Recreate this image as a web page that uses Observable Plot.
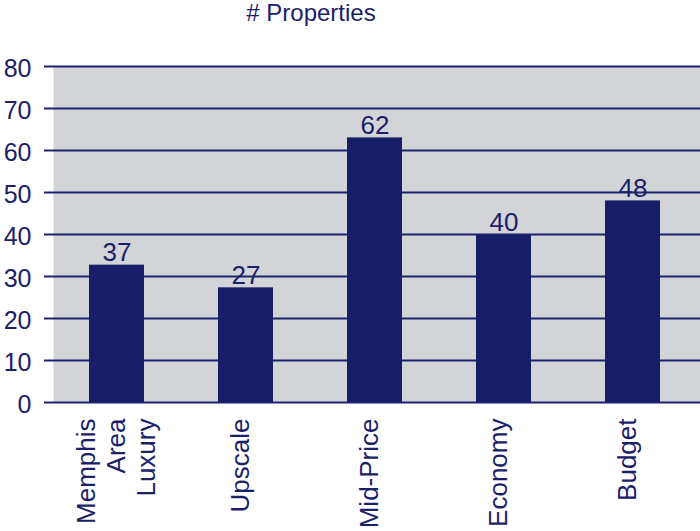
<!DOCTYPE html>
<html>
<head>
<meta charset="utf-8">
<script src="https://cdn.jsdelivr.net/npm/d3@7"></script>
<script src="https://cdn.jsdelivr.net/npm/@observablehq/plot@0.6"></script>
<style>
  html, body { margin: 0; padding: 0; background: #ffffff; }
  #title { width: 622px; height: 26px; line-height: 26px; text-align: center; font-family: "Liberation Sans", Arial, sans-serif; font-size: 24px; color: #1b2169; white-space: nowrap; }
</style>
</head>
<body>
<div id="title"># Properties</div>
<div id="chart"></div>
<script>
const categories = ["Memphis Area Luxury", "Upscale", "Mid-Price", "Economy", "Budget"];
const axisLabels = ["Memphis\nArea\nLuxury", "Upscale", "Mid-Price", "Economy", "Budget"];
const barValues = [32.7, 27.3, 63, 40, 48];
const valueLabels = ["37", "27", "62", "40", "48"];
const yTicks = [0, 10, 20, 30, 40, 50, 60, 70, 80];

const navy = "#1b2169";
const barColor = "#171d66";
const lineColor = "#1c2270";
const gray = "#d3d4d7";

const data = categories.map((c, i) => ({
  category: c,
  label: axisLabels[i],
  value: barValues[i],
  text: valueLabels[i]
}));
const singleLine = data.filter(d => !d.label.includes("\n"));
const multiLine = data.filter(d => d.label.includes("\n"));

const chart = Plot.plot({
  width: 700,
  height: 505,
  marginTop: 40,
  marginBottom: 129,
  marginLeft: 53,
  marginRight: 0,
  style: { fontFamily: "Liberation Sans, Arial, sans-serif", color: navy, background: "#ffffff", overflow: "visible" },
  x: { domain: categories, range: [51, 698], padding: 0, axis: null },
  y: { domain: [0, 80], axis: null },
  marks: [
    Plot.frame({ fill: gray, stroke: "none" }),
    Plot.ruleY(yTicks, { stroke: lineColor, strokeWidth: 2, insetLeft: -9 }),
    Plot.barY(data, { x: "category", y: "value", fill: barColor, insetLeft: 37, insetRight: 37 }),
    Plot.text(data, { x: "category", y: "value", text: "text", lineAnchor: "bottom", dy: -4, fontSize: 26, fill: navy }),
    Plot.axisY(yTicks, { tickSize: 0, tickPadding: 22, fontSize: 25, dy: 2, fill: navy, label: null }),
    Plot.text(singleLine, { x: "category", text: "label", frameAnchor: "bottom", rotate: -90, textAnchor: "end", lineAnchor: "middle", dy: 16, dx: -5, fontSize: 26, fill: navy }),
    Plot.text(multiLine, { x: "category", text: "label", frameAnchor: "bottom", rotate: -90, textAnchor: "end", lineAnchor: "middle", lineHeight: 1.16, dy: 16, dx: -2, fontSize: 26, fill: navy })
  ]
});
document.getElementById("chart").appendChild(chart);
</script>
</body>
</html>
